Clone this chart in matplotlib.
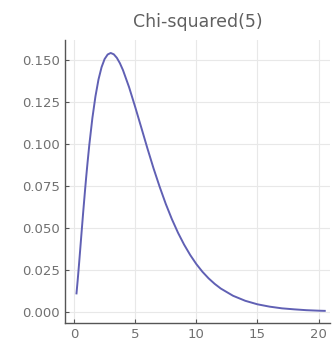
import matplotlib
matplotlib.use("Agg")
import matplotlib.pyplot as plt

# values
x = [0.2, 0.3, 0.4, 0.5, 0.6, 0.75, 0.9, 1.0, 1.1, 1.25, 1.5, 1.75, 2.0,
     2.25, 2.5, 2.75, 3.0, 3.25, 3.5, 3.75, 4.0, 4.5, 5.0, 5.5, 6.0, 6.5,
     7.0, 7.5, 8.0, 8.5, 9.0, 9.5, 10.0, 10.5, 11.0, 11.5, 12.0, 13.0, 14.0,
     15.0, 16.0, 17.0, 18.0, 19.0, 20.0, 20.5]
y = [0.0108, 0.0188, 0.0275, 0.0366, 0.0458, 0.0594, 0.0724, 0.0807, 0.0885,
     0.0995, 0.1154, 0.1283, 0.1384, 0.1457, 0.1506, 0.1533, 0.1542, 0.1534,
     0.1513, 0.1481, 0.1440, 0.1338, 0.1220, 0.1097, 0.0973, 0.0854, 0.0744,
     0.0642, 0.0551, 0.0470, 0.0399, 0.0337, 0.0283, 0.0237, 0.0198, 0.0165,
     0.0137, 0.0094, 0.0064, 0.0043, 0.0029, 0.0019, 0.0013, 0.0008, 0.0005,
     0.0004]
xticks = [0, 5, 10, 15, 20]
yticks = [0.000, 0.025, 0.050, 0.075, 0.100, 0.125, 0.150]

fig = plt.figure(figsize=(3.35, 3.41), dpi=100)
ax = fig.add_axes([0.194, 0.053, 0.79, 0.83])
ax.plot(x, y, color="#6060b4", lw=1.4)
ax.set_xlim(-0.74, 20.9)
ax.set_ylim(-0.0068, 0.162)
ax.set_xticks(xticks)
ax.set_yticks(yticks)
ax.set_yticklabels(["%.3f" % v for v in yticks])
ax.grid(True, color="#e8e8e8", lw=0.8)
ax.set_axisbelow(True)
for s in ["top", "right"]:
    ax.spines[s].set_visible(False)
for s in ["left", "bottom"]:
    ax.spines[s].set_color("#555555")
    ax.spines[s].set_linewidth(1.0)
ax.tick_params(direction="in", length=3, colors="#555555", labelsize=9.5,
               labelcolor="#707070")
ax.set_title("Chi-squared(5)", fontsize=12.5, color="#606060", pad=9)
fig.savefig("out.png", dpi=100)
